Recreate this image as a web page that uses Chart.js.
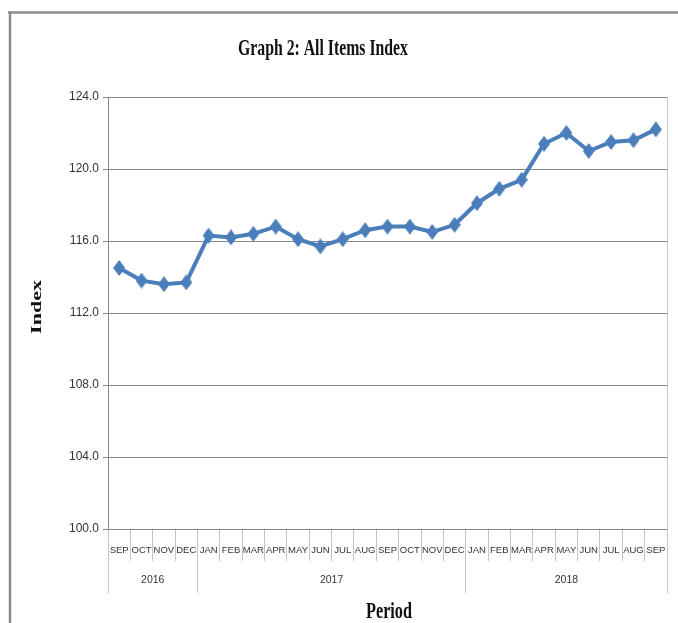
<!DOCTYPE html>
<html>
<head>
<meta charset="utf-8">
<script src="https://cdn.jsdelivr.net/npm/chart.js@4"></script>
<style>
    html, body { margin: 0; padding: 0; background: #fff; }
    #wrap { position: relative; width: 678px; height: 623px; }
</style>
</head>
<body>
<div id="wrap"><canvas id="indexChart" width="678" height="623"></canvas></div>
<script>
const months = ["SEP", "OCT", "NOV", "DEC",
    "JAN", "FEB", "MAR", "APR", "MAY", "JUN", "JUL", "AUG", "SEP", "OCT", "NOV", "DEC",
    "JAN", "FEB", "MAR", "APR", "MAY", "JUN", "JUL", "AUG", "SEP"];
const indexValues = [114.5, 113.8, 113.6, 113.7,
    116.3, 116.2, 116.4, 116.8, 116.1, 115.7, 116.1, 116.6, 116.8, 116.8, 116.5, 116.9,
    118.1, 118.9, 119.4, 121.4, 122.0, 121.0, 121.5, 121.6, 122.2];
const yearNames = ["2016", "2017", "2018"];
const yearMonthCounts = [4, 12, 9];
const yMin = 100;
const yMax = 124;
const yStep = 4;
const chartTitle = "Graph 2: All Items Index";
const xTitle = "Period";
const yTitle = "Index";

const lineBlue = "#4A7EBB";
const tickFont = "'Liberation Sans', Arial, sans-serif";
const titleFont = "'Liberation Serif', 'DejaVu Serif', serif";

// year groups: separators at boundaries, label at the middle of each group
let yearTicks = [];
let start = 0;
yearMonthCounts.forEach((n, i) => {
    yearTicks.push({ value: start - 0.5, label: "" });
    yearTicks.push({ value: start + (n - 1) / 2, label: yearNames[i] });
    start += n;
});
yearTicks.push({ value: start - 0.5, label: "" });

function makeDiamond(w, h, color) {
    let c = document.createElement("canvas");
    c.width = w;
    c.height = h;
    let g = c.getContext("2d");
    g.fillStyle = color;
    g.beginPath();
    g.moveTo(w / 2, 0);
    g.lineTo(w, h / 2);
    g.lineTo(w / 2, h);
    g.lineTo(0, h / 2);
    g.closePath();
    g.fill();
    return c;
}

// squeezed serif text, like the narrow bold titles of the original
function drawSqueezed(ctx, text, x, y, size, width, rotate) {
    ctx.save();
    ctx.font = "bold " + size + "px " + titleFont;
    ctx.fillStyle = "#111";
    ctx.textAlign = "center";
    ctx.translate(x, y);
    if (rotate) {
        ctx.textBaseline = "middle";
        ctx.rotate(-Math.PI / 2);
        ctx.scale(1, width);
    } else {
        ctx.textBaseline = "alphabetic";
        ctx.scale(width / ctx.measureText(text).width, 1);
    }
    ctx.fillText(text, 0, 0);
    ctx.restore();
}

const decorPlugin = {
    id: "decor",
    beforeDraw(chart) {
        let ctx = chart.ctx;
        ctx.save();
        ctx.strokeStyle = "#8c8c8c";
        ctx.lineWidth = 2.5;
        ctx.beginPath();
        ctx.moveTo(8, 12.5);
        ctx.lineTo(678, 12.5);
        ctx.moveTo(10, 12.5);
        ctx.lineTo(10, 623);
        ctx.stroke();
        ctx.restore();
    },
    afterDraw(chart) {
        let ctx = chart.ctx;
        drawSqueezed(ctx, chartTitle, 323, 55, 23, 170, false);
        drawSqueezed(ctx, xTitle, 389, 618, 23, 46, false);
        drawSqueezed(ctx, yTitle, 37, 307, 22, 0.7, true);
    }
};

const config = {
    type: "line",
    data: {
        labels: months,
        datasets: [{
            label: "All Items Index",
            data: indexValues,
            borderColor: lineBlue,
            backgroundColor: lineBlue,
            borderWidth: 4,
            tension: 0,
            fill: false,
            pointStyle: makeDiamond(12, 16, lineBlue),
            pointRadius: 7,
            pointHoverRadius: 7
        }]
    },
    options: {
        responsive: false,
        animation: false,
        layout: { padding: { left: 0, right: 7.5, top: 97, bottom: 30 } },
        plugins: {
            legend: { display: false },
            title: { display: false },
            tooltip: { enabled: false }
        },
        scales: {
            x: {
                type: "category",
                position: "bottom",
                weight: 0,
                offset: true,
                grid: { offset: true, drawOnChartArea: false, tickLength: 32, color: "#c4c4c4" },
                border: { color: "#868686" },
                ticks: {
                    autoSkip: false, maxRotation: 0, minRotation: 0, padding: -16,
                    color: "#333", font: { family: tickFont, size: 9.5 }
                },
                afterFit: (s) => { s.height = 32; }
            },
            x2: {
                type: "linear",
                position: "bottom",
                weight: 1,
                min: -0.5,
                max: months.length - 0.5,
                afterBuildTicks: (s) => { s.ticks = yearTicks.map(t => ({ value: t.value })); },
                grid: {
                    drawOnChartArea: false, tickLength: 32,
                    color: (c) => {
                        let t = yearTicks.find(t => c.tick && t.value === c.tick.value);
                        return t && t.label === "" ? "#c4c4c4" : "rgba(0,0,0,0)";
                    }
                },
                border: { display: false },
                ticks: {
                    autoSkip: false, maxRotation: 0, minRotation: 0, padding: -19,
                    color: "#333", font: { family: tickFont, size: 10.5 },
                    callback: (v) => {
                        let t = yearTicks.find(t => t.value === v);
                        return t ? t.label : "";
                    }
                },
                afterFit: (s) => { s.height = 32; }
            },
            y: {
                min: yMin,
                max: yMax,
                ticks: {
                    stepSize: yStep, padding: 4,
                    color: "#333", font: { family: tickFont, size: 12 },
                    callback: (v) => v.toFixed(1)
                },
                grid: { color: "#8a8a8a", tickLength: 5 },
                border: { color: "#8a8a8a" },
                afterFit: (s) => { s.width = 108; }
            },
            y2: {
                position: "right",
                min: yMin,
                max: yMax,
                ticks: { display: false },
                grid: { display: false },
                border: { color: "#c4c4c4" },
                afterFit: (s) => { s.width = 0; }
            }
        }
    },
    plugins: [decorPlugin]
};

new Chart(document.getElementById("indexChart"), config);
</script>
</body>
</html>
